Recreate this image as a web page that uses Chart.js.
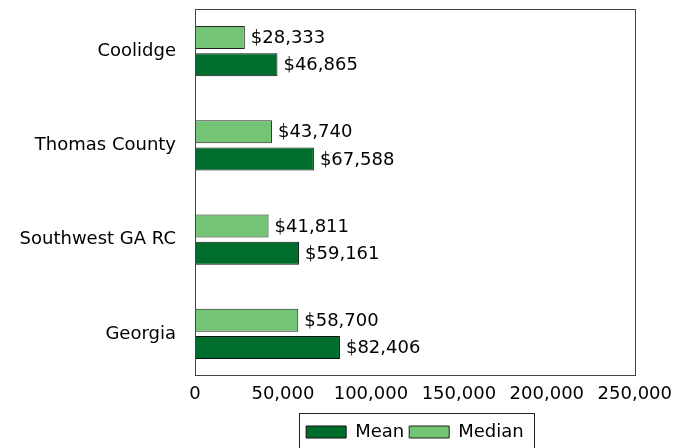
<!DOCTYPE html>
<html>
<head>
<meta charset="utf-8">
<script src="https://cdn.jsdelivr.net/npm/chart.js@4/dist/chart.umd.min.js"></script>
<style>
  html, body { margin:0; padding:0; background:#fff; }
  #wrap { width:675px; height:448px; }
</style>
</head>
<body>
<div id="wrap"><canvas id="incomeChart"></canvas></div>
<script>
// categories top to bottom
const places = ['Coolidge', 'Thomas County', 'Southwest GA RC', 'Georgia'];
const medianIncome = [28333, 43740, 41811, 58700];
const meanIncome   = [46865, 67588, 59161, 82406];
const xTicks = [0, 50000, 100000, 150000, 200000, 250000];

const FONT = 'DejaVu Sans';
const fmt = v => v.toLocaleString('en-US');

// value labels at the end of each bar
const barLabels = {
  id: 'barLabels',
  afterDatasetsDraw(chart) {
    const ctx = chart.ctx;
    ctx.save();
    ctx.font = '18px "' + FONT + '"';
    ctx.fillStyle = '#000';
    ctx.textBaseline = 'middle';
    ctx.textAlign = 'left';
    chart.data.datasets.forEach((ds, i) => {
      chart.getDatasetMeta(i).data.forEach((bar, j) => {
        ctx.fillText('$' + fmt(ds.data[j]), bar.x + 6, bar.y + 1);
      });
    });
    ctx.restore();
  }
};

// axis frame and legend box
const frames = {
  id: 'frames',
  afterDraw(chart) {
    const ctx = chart.ctx, a = chart.chartArea;
    ctx.save();
    ctx.strokeStyle = '#444';
    ctx.lineWidth = 1;
    ctx.strokeRect(Math.round(a.left) + 0.5, Math.round(a.top + 5) + 0.5, Math.round(a.right - a.left), Math.round(a.bottom - a.top - 11));
    const hb = chart.legend.legendHitBoxes;
    if (hb && hb.length) {
      const l = hb[0].left - 7;
      const r = hb[hb.length - 1].left + hb[hb.length - 1].width + 10;
      const t = hb[0].top - 10;
      ctx.strokeStyle = '#222';
      ctx.strokeRect(Math.round(l) + 0.5, Math.round(t) + 0.5, Math.round(r - l), chart.height);
    }
    ctx.restore();
  }
};

new Chart(document.getElementById('incomeChart'), {
  type: 'bar',
  data: {
    labels: places,
    datasets: [
      {label:'Median', data:medianIncome, backgroundColor:'#74c476', borderColor:'#222', borderWidth:1, borderSkipped:false, categoryPercentage:0.575, barPercentage:0.85},
      {label:'Mean',   data:meanIncome,   backgroundColor:'#006d2c', borderColor:'#111', borderWidth:1, borderSkipped:false, categoryPercentage:0.575, barPercentage:0.85},
    ]
  },
  options: {
    indexAxis: 'y',
    responsive: true,
    maintainAspectRatio: false,
    animation: false,
    layout: { padding: { top:4, right:37, bottom:-3, left:0 } },
    plugins: {
      tooltip: { enabled:false },
      legend: {
        position: 'bottom',
        fullSize: false,
        reverse: true,
        labels: { boxWidth:40, boxHeight:12, padding:5, color:'#000', font:{ family:FONT, size:18 } }
      }
    },
    scales: {
      x: {
        min: 0, max: 250000,
        afterBuildTicks: s => { s.ticks = xTicks.map(v => ({ value:v })); },
        afterFit: s => { s.height = 37; },
        grid: { display:false, drawTicks:false },
        border: { display:false },
        ticks: { color:'#000', padding:3, font:{ family:FONT, size:18 }, callback: v => fmt(v) }
      },
      y: {
        grid: { display:false, drawTicks:false },
        border: { display:false },
        afterFit: s => { s.width = 195; s.paddingTop = 0; s.paddingBottom = 0; },
        ticks: { color:'#000', padding:19, font:{ family:FONT, size:18 } }
      }
    }
  },
  plugins: [barLabels, frames]
});
</script>
</body>
</html>
